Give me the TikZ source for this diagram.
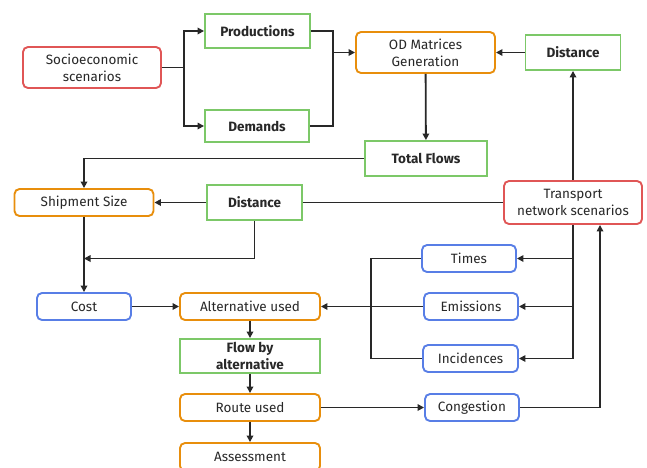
\documentclass[tikz,border=0pt]{standalone}
\usepackage{fontspec}
\setmainfont{Fira Sans}
\usetikzlibrary{arrows.meta,positioning,calc}
\definecolor{ink}{RGB}{40,40,40}
\definecolor{scen}{RGB}{224,86,86}
\definecolor{datum}{RGB}{124,200,104}
\definecolor{model}{RGB}{232,142,12}
\definecolor{indic}{RGB}{88,126,230}
\tikzset{
  every picture/.style={color=ink, line width=1.8pt, line join=miter, font=\fontsize{13.5}{17}\selectfont},
  box/.style={draw, line width=1.9pt, fill=white, inner sep=2pt, align=center, text=ink},
  scenario/.style={box, draw=scen, rounded corners=5pt, minimum width=138pt, minimum height=41pt},
  input/.style={box, draw=datum, font=\fontsize{13.5}{17}\selectfont\bfseries, minimum width=95pt, minimum height=35pt},
  stage/.style={box, draw=model, rounded corners=5pt, minimum width=140pt, minimum height=27pt},
  measure/.style={box, draw=indic, rounded corners=5pt, minimum width=94pt, minimum height=27pt},
  flow/.style={-{Triangle[length=6.5pt,width=6.5pt]}},
}
\begin{document}
\begin{tikzpicture}[x=1pt, y=-1pt]
  \useasboundingbox (0,0) rectangle (647,467);
  % upper block: scenarios to OD matrices
  \node[scenario] (socio) at (92,67.5) {Socioeconomic\\scenarios};
  \node[input, minimum width=105pt, minimum height=34pt] (prod) at (257.5,31) {Productions};
  \node[input, minimum width=104pt, minimum height=32pt] (dem) at (257,126) {Demands};
  \node[stage, minimum width=139pt, minimum height=41pt] (od) at (425.5,52.5) {OD Matrices\\Generation};
  \node[input] (dist1) at (573,52.5) {Distance};
  \node[input, minimum width=122pt] (total) at (426,158.5) {Total Flows};
  % middle block
  \node[stage, minimum width=139pt] (ship) at (84,202.5) {Shipment Size};
  \node[input] (dist2) at (254.5,202.5) {Distance};
  \node[scenario, minimum height=43pt] (trans) at (573,202.5) {Transport\\network scenarios};
  \node[measure] (times) at (469,258.5) {Times};
  \node[measure] (emis) at (471,306.5) {Emissions};
  \node[measure, minimum width=95pt] (inc) at (470.5,358.5) {Incidences};
  \node[measure] (cong) at (472,407.5) {Congestion};
  % lower chain
  \node[measure] (cost) at (84,306.5) {Cost};
  \node[stage] (alt) at (250,306.5) {Alternative used};
  \node[input, minimum width=140pt, minimum height=34pt] (flowalt) at (250,356) {Flow by\\alternative};
  \node[stage] (route) at (250,407.5) {Route used};
  \node[stage, minimum height=28pt] (assess) at (250,457) {Assessment};

  \draw (socio.east) -- ++(22,0) coordinate (fork);
  \draw[flow] (fork) |- (prod);
  \draw[flow] (fork) |- (dem);
  \coordinate (join) at (333,52.5);
  \draw (prod) -| (join) |- (dem);
  \draw[flow] (join) -- (od);
  \draw[flow] (dist1) -- (od);
  \draw[flow] (od) -- (total);
  \draw[flow] (total.west) -| (ship.north);
  \draw[flow] (dist2) -- (ship);
  \draw (dist2) -- (trans);
  \draw[flow] (trans) -- (dist1);
  \draw[flow] (ship) -- (cost);
  \coordinate (merge) at (ship.south |- times.west);
  \draw[flow] (dist2.south) |- (merge);
  \draw[flow] (cost) -- (alt);
  \draw (trans.south) -- (trans.south |- inc.east);
  \draw[flow] (trans.south |- times.east) -- (times);
  \draw[flow] (trans.south |- emis.east) -- (emis);
  \draw[flow] (trans.south |- inc.east) -- (inc);
  \draw (times.west) -- ++(-50,0) |- (inc.west);
  \draw[flow] (emis) -- (alt);
  \draw[flow] (route) -- (cong);
  \draw[flow] (cong.east) -| ([xshift=27pt]trans.south);
  \draw[flow] (alt) -- (flowalt);
  \draw[flow] (flowalt) -- (route);
  \draw[flow] (route) -- (assess);
\end{tikzpicture}
\end{document}
